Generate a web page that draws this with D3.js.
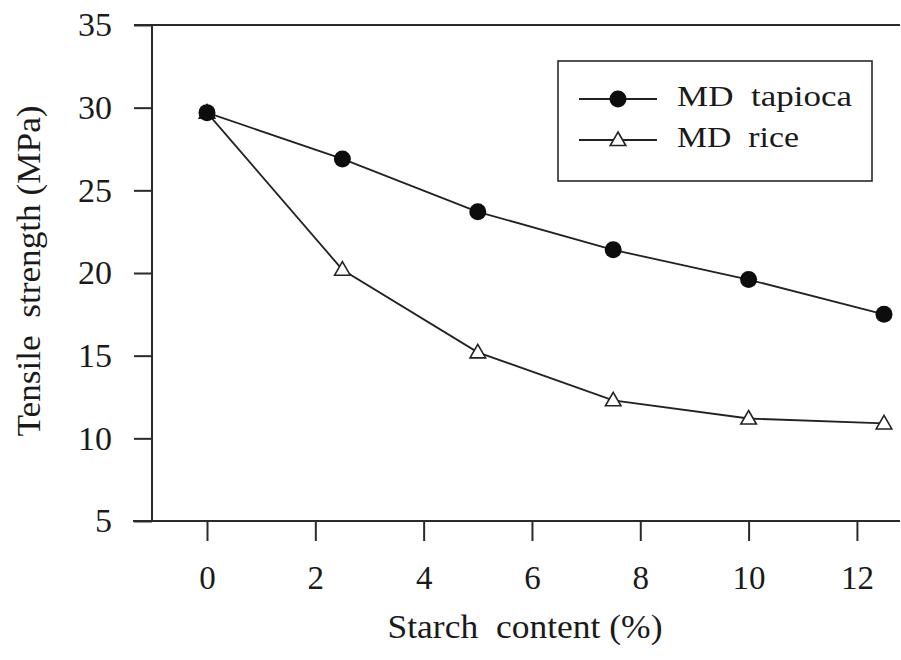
<!DOCTYPE html>
<html><head><meta charset="utf-8">
<script src="https://cdn.jsdelivr.net/npm/d3@7"></script>
<style>body{margin:0;background:#fff}</style>
</head><body><svg id="c" width="901" height="660" font-family="Liberation Serif"></svg>
<script>
const starchContent = [0, 2.5, 5, 7.5, 10, 12.5];
const tapioca = [29.7, 26.9, 23.7, 21.4, 19.6, 17.5];
const rice = [29.7, 20.2, 15.2, 12.3, 11.2, 10.9];
const xTicks = [0, 2, 4, 6, 8, 10, 12];
const yTicks = [5, 10, 15, 20, 25, 30, 35];
const seriesNames = ["MD\u00a0\u00a0tapioca", "MD\u00a0\u00a0rice"];
const xTitle = "Starch\u00a0\u00a0content (%)";
const yTitle = "Tensile\u00a0\u00a0strength (MPa)";

const FONT = "Liberation Serif";
const TXT = "#1a1a1a";
const svg = d3.select("#c");
svg.append("rect").attr("width", 901).attr("height", 660).attr("fill", "#fff");

const x = d3.scaleLinear().domain([0, 12.5]).range([207, 884]);
const y = d3.scaleLinear().domain([5, 35]).range([521, 25]);
const axisColor = "#2a2a2a";
const leftX = 152, rightX = 900;

// y axis
const gy = svg.append("g").attr("transform", `translate(${leftX},0)`)
  .call(d3.axisLeft(y).tickValues(yTicks).tickSize(18).tickPadding(22).tickFormat(d3.format("d")));
gy.attr("font-family", FONT);
gy.select(".domain").remove();
gy.selectAll(".tick line").attr("stroke", axisColor).attr("stroke-width", 2);
gy.selectAll(".tick text").attr("font-size", 34).attr("font-family", FONT).attr("fill", TXT);

// x axis
const gx = svg.append("g").attr("transform", `translate(0,${y(5)})`)
  .call(d3.axisBottom(x).tickValues(xTicks).tickSize(20).tickPadding(25).tickFormat(d3.format("d")));
gx.attr("font-family", FONT);
gx.select(".domain").remove();
gx.selectAll(".tick line").attr("stroke", axisColor).attr("stroke-width", 2);
gx.selectAll(".tick text").attr("font-size", 33).attr("font-family", FONT).attr("fill", TXT);

// frame lines (left, top, bottom)
svg.append("line").attr("x1", leftX).attr("x2", leftX).attr("y1", y(35)).attr("y2", y(5))
  .attr("stroke", axisColor).attr("stroke-width", 2);
svg.append("line").attr("x1", leftX - 18).attr("x2", rightX).attr("y1", y(35)).attr("y2", y(35))
  .attr("stroke", axisColor).attr("stroke-width", 2);
svg.append("line").attr("x1", leftX - 19).attr("x2", rightX).attr("y1", y(5)).attr("y2", y(5))
  .attr("stroke", axisColor).attr("stroke-width", 2);

// lines
const line = d3.line().x((d, i) => x(starchContent[i])).y(d => y(d));
svg.append("path").datum(rice).attr("d", line).attr("fill", "none")
  .attr("stroke", "#222").attr("stroke-width", 1.8);
svg.append("path").datum(tapioca).attr("d", line).attr("fill", "none")
  .attr("stroke", "#222").attr("stroke-width", 1.8);

const tri = d3.symbol().type(d3.symbolTriangle).size(105);
svg.selectAll(".rice").data(rice).join("path").attr("class", "rice")
  .attr("d", tri)
  .attr("transform", (d, i) => `translate(${x(starchContent[i])},${y(d) + 1})`)
  .attr("fill", "#fff").attr("stroke", "#222").attr("stroke-width", 1.6);
svg.selectAll(".tap").data(tapioca).join("circle").attr("class", "tap")
  .attr("cx", (d, i) => x(starchContent[i])).attr("cy", d => y(d)).attr("r", 8.5)
  .attr("fill", "#0d0d0d");

// legend
const lg = svg.append("g");
lg.append("rect").attr("x", 558).attr("y", 61).attr("width", 314).attr("height", 120)
  .attr("fill", "#fff").attr("stroke", axisColor).attr("stroke-width", 1.6);
const rows = [99, 140];
const widths = [175, 122];
seriesNames.forEach((name, i) => {
  lg.append("line").attr("x1", 579).attr("x2", 657).attr("y1", rows[i]).attr("y2", rows[i])
    .attr("stroke", "#222").attr("stroke-width", 1.8);
  if (i === 0) {
    lg.append("circle").attr("cx", 618).attr("cy", rows[i]).attr("r", 8.5).attr("fill", "#0d0d0d");
  } else {
    lg.append("path").attr("d", tri).attr("transform", `translate(618,${rows[i] + 1})`)
      .attr("fill", "#fff").attr("stroke", "#222").attr("stroke-width", 1.6);
  }
  lg.append("text").attr("x", 677).attr("y", rows[i] + 7).attr("font-size", 29)
    .attr("font-family", FONT).attr("fill", TXT)
    .attr("textLength", widths[i]).attr("lengthAdjust", "spacingAndGlyphs")
    .text(name);
});

// titles
svg.append("text").attr("x", 525).attr("y", 638).attr("text-anchor", "middle")
  .attr("font-family", FONT).attr("fill", TXT).attr("font-size", 34)
  .attr("textLength", 275).attr("lengthAdjust", "spacingAndGlyphs").text(xTitle);
svg.append("text").attr("transform", "translate(40,271) rotate(-90)").attr("text-anchor", "middle")
  .attr("font-family", FONT).attr("fill", TXT).attr("font-size", 33)
  .attr("textLength", 331).attr("lengthAdjust", "spacingAndGlyphs").text(yTitle);
</script>
</body></html>
